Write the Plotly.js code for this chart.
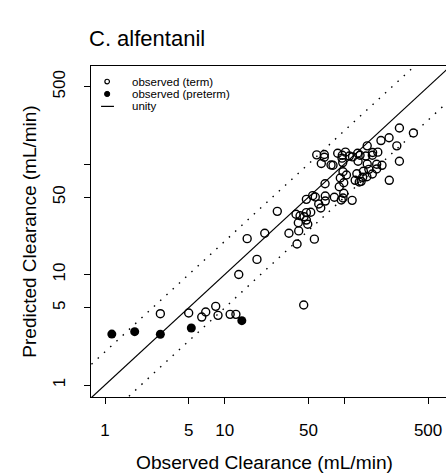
<!DOCTYPE html>
<html>
<head>
<meta charset="utf-8">
<script src="https://cdn.plot.ly/plotly-3.0.1.min.js"></script>
<style>
html,body{margin:0;padding:0;overflow:hidden;background:#fff;}
#chart{width:450px;height:476px;}
</style>
</head>
<body>
<div id="chart"></div>
<script>
// Observed (term) clearance, mL/min
var termObserved = [2.90, 5.0, 6.43, 6.94, 8.41, 8.79, 11.1, 12.4, 45.7,
  13.1, 18.6, 15.4, 21.6, 27.5, 34.4, 40.2, 41.5, 41.2, 39.4, 42.6, 46.0, 48.1, 49.4, 48.1, 52.3, 56.1,
  48.1, 54.3, 57.1, 61.0, 63.4, 69.2, 69.2, 68.9, 82.4, 94.2, 97.3, 98.7, 116, 90.6, 92.4, 98.7, 104, 97.3,
  77.3, 80.3, 64.1, 58.7, 67.9, 67.9, 87.9, 96.0, 102, 95.5, 96.8, 110, 117, 129, 135, 130, 151, 172, 190, 171,
  155, 202, 236, 288, 377, 274, 288, 206, 186, 155, 160, 144, 186, 171, 154, 127, 142, 123, 133, 138, 237];
// Predicted (term) clearance, mL/min
var termPredicted = [4.42, 4.48, 4.12, 4.58, 5.15, 4.27, 4.36, 4.36, 5.30,
  10.0, 13.7, 21.1, 23.6, 37.3, 23.6, 18.9, 24.8, 29.4, 35.1, 34.0, 33.3, 36.3, 28.5, 31.1, 36.6, 20.9,
  47.9, 51.7, 50.3, 43.5, 40.0, 51.3, 46.2, 66.3, 50.0, 47.2, 49.2, 54.3, 46.9, 62.3, 74.7, 67.7, 79.5, 85.2,
  97.9, 97.5, 101, 121, 122, 115, 125, 120, 128, 113, 103, 118, 116, 125, 120, 106, 118, 127, 128, 120,
  146, 163, 173, 212, 191, 146, 106, 97.3, 99.4, 100, 89.5, 85.9, 90.1, 81.2, 76.7, 81.7, 75.8, 71.2, 68.7, 69.7, 71.2];
// Preterm
var pretermObserved = [1.14, 1.77, 2.90, 5.26, 13.9];
var pretermPredicted = [2.89, 3.04, 2.88, 3.28, 3.82];
// Reference lines: unity and 2-fold bounds
var refX = [0.1, 10000];
var unityY = [0.1, 10000];
var upperY = [0.2, 20000];
var lowerY = [0.05, 5000];

var tickVals = [1, 5, 10, 50, 100, 500];
var tickText = ['1', '5', '10', '50', '', '500'];

var fontFam = 'Liberation Sans, Arial, sans-serif';

var traces = [
  {x: refX, y: unityY, mode: 'lines', line: {color: '#000', width: 1.2}, hoverinfo: 'skip', name: 'unity'},
  {x: refX, y: upperY, mode: 'lines', line: {color: '#000', width: 1.4, dash: '1.5px,7px'}, hoverinfo: 'skip', name: 'upper'},
  {x: refX, y: lowerY, mode: 'lines', line: {color: '#000', width: 1.4, dash: '1.5px,7px'}, hoverinfo: 'skip', name: 'lower'},
  {x: termObserved, y: termPredicted, mode: 'markers', name: 'observed (term)',
   marker: {symbol: 'circle-open', size: 8, color: '#000', line: {width: 1.4, color: '#000'}}},
  {x: pretermObserved, y: pretermPredicted, mode: 'markers', name: 'observed (preterm)',
   marker: {symbol: 'circle', size: 9, color: '#000'}}
];

var legendLabels = ['observed (term)', 'observed (preterm)', 'unity'];
var legY = [0.953, 0.9155, 0.878];
var annotations = legendLabels.map(function (t, i) {
  return {text: t, xref: 'paper', yref: 'paper', x: 0.111, y: legY[i], xanchor: 'left', yanchor: 'middle',
    showarrow: false, borderpad: 0, font: {family: fontFam, size: 11.5, color: '#000'}};
});
annotations.push({text: 'Observed Clearance (mL/min)', xref: 'paper', yref: 'paper',
  x: (264.5 - 91) / 359, y: (397 - 462) / 331, xanchor: 'center', yanchor: 'middle',
  showarrow: false, font: {family: fontFam, size: 19.2, color: '#000'}});

var shapes = [
  {type: 'circle', xref: 'paper', yref: 'paper', xsizemode: 'pixel', ysizemode: 'pixel',
   xanchor: 0.045, yanchor: legY[0], x0: -2.3, x1: 2.3, y0: -2.3, y1: 2.3,
   line: {color: '#000', width: 1.2}, fillcolor: 'rgba(0,0,0,0)'},
  {type: 'circle', xref: 'paper', yref: 'paper', xsizemode: 'pixel', ysizemode: 'pixel',
   xanchor: 0.045, yanchor: legY[1], x0: -2.6, x1: 2.6, y0: -2.6, y1: 2.6,
   line: {color: '#000', width: 1}, fillcolor: '#000'},
  {type: 'line', xref: 'paper', yref: 'paper', x0: 0.028, x1: 0.064, y0: legY[2], y1: legY[2],
   line: {color: '#000', width: 1.2}}
];

var axisCommon = {
  type: 'log', showgrid: false, zeroline: false, showline: true, mirror: true,
  linecolor: '#000', linewidth: 1, ticks: 'outside', ticklen: 6, tickwidth: 1, tickcolor: '#000',
  tickmode: 'array', tickvals: tickVals, ticktext: tickText,
  tickfont: {family: fontFam, size: 17, color: '#000'}
};

var layout = {
  width: 450, height: 476,
  margin: {l: 91, r: 0, t: 66, b: 79},
  paper_bgcolor: '#fff', plot_bgcolor: '#fff',
  showlegend: false,
  title: {text: 'C. alfentanil', x: 89 / 450, xanchor: 'left', xref: 'container',
          y: 1 - 38 / 476, yanchor: 'middle', yref: 'container',
          font: {family: fontFam, size: 22, color: '#000'}},
  xaxis: Object.assign({}, axisCommon, {
    range: [-0.117, 2.882], ticklabelstandoff: 12
  }),
  yaxis: Object.assign({}, axisCommon, {
    range: [-0.1086, 2.887], tickangle: -90, ticklabelstandoff: 12,
    title: {text: 'Predicted Clearance (mL/min)', standoff: 8, font: {family: fontFam, size: 19, color: '#000'}}
  }),
  annotations: annotations,
  shapes: shapes
};

Plotly.newPlot('chart', traces, layout, {displayModeBar: false, staticPlot: true});
</script>
</body>
</html>
